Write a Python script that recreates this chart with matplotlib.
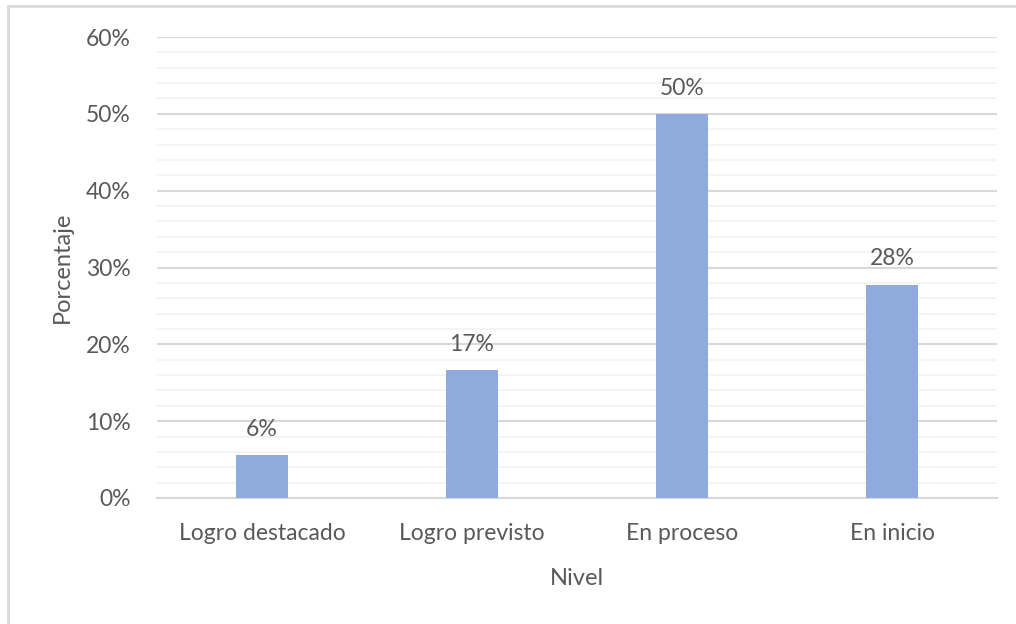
import matplotlib
matplotlib.use("Agg")
import matplotlib.pyplot as plt
from matplotlib.patches import Rectangle
from matplotlib.ticker import MultipleLocator, FuncFormatter

categories = ["Logro destacado", "Logro previsto", "En proceso", "En inicio"]
percentages = [5.56, 16.67, 50.0, 27.78]

y_title = "Porcentaje"
x_title = "Nivel"

text_color = "#595959"
bar_color = "#8FAADC"
plt.rcParams["font.family"] = ["Lato", "DejaVu Sans"]

W, H = 1016, 624
fig = plt.figure(figsize=(W / 100, H / 100), dpi=100)

# chart frame (left and top edges)
fig.patches.append(Rectangle((8 / W, -0.1), 2.0, 1.1 - 6 / H, transform=fig.transFigure,
                             fill=False, edgecolor="#d9d9d9", linewidth=2))

left, right = 157 / W, 997 / W
bottom, top = 1 - 498 / H, 1 - 37 / H
ax = fig.add_axes([left, bottom, right - left, top - bottom])

x = range(len(categories))
bars = ax.bar(x, percentages, width=0.25, color=bar_color, zorder=3)

ax.set_xlim(-0.5, len(categories) - 0.5)
ax.set_ylim(0, 60)
ax.yaxis.set_major_locator(MultipleLocator(10))
ax.yaxis.set_minor_locator(MultipleLocator(2))
ax.yaxis.set_major_formatter(FuncFormatter(lambda v, _: f"{v:.0f}%"))
ax.grid(axis="y", which="minor", color="#f2f2f2", linewidth=1.2, zorder=0)
ax.grid(axis="y", which="major", color="#d9d9d9", linewidth=1.5, zorder=1)

for side in ["top", "right", "left"]:
    ax.spines[side].set_visible(False)
ax.spines["bottom"].set_color("#d9d9d9")
ax.spines["bottom"].set_linewidth(1.5)

ax.set_xticks(list(x))
ax.set_xticklabels(categories)
ax.tick_params(axis="both", which="both", length=0, labelsize=16.5, colors=text_color)
ax.tick_params(axis="x", pad=18)
ax.tick_params(axis="y", pad=19)

for rect, v in zip(bars, percentages):
    ax.annotate(f"{v:.0f}%", (rect.get_x() + rect.get_width() / 2, v),
                xytext=(0, 11), textcoords="offset points", ha="center", va="bottom",
                fontsize=16.5, color=text_color)

ax.set_ylabel(y_title, fontsize=17, color=text_color, labelpad=9)
ax.set_xlabel(x_title, fontsize=17, color=text_color, labelpad=17)

fig.savefig("out.png", dpi=100)
